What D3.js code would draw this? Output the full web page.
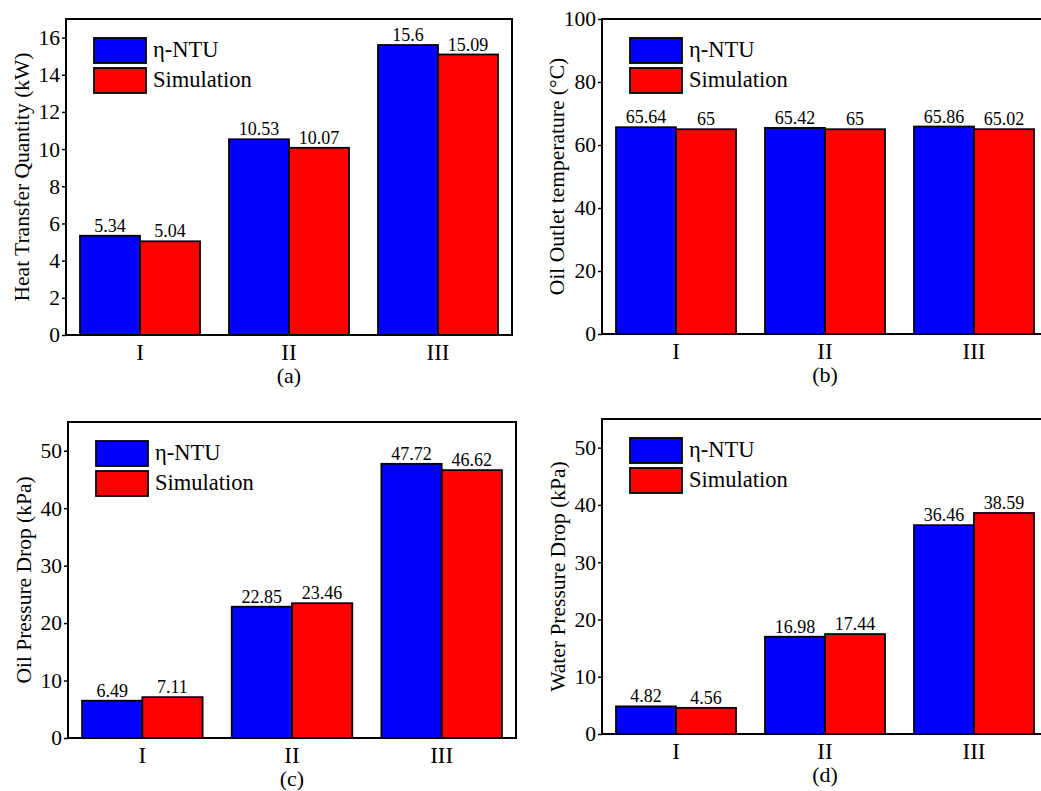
<!DOCTYPE html>
<html>
<head>
<meta charset="utf-8">
<script src="https://cdn.jsdelivr.net/npm/d3@7/dist/d3.min.js"></script>
<style>
  body { margin: 0; background: #fff; }
  svg { font-family: "Liberation Serif", "Times New Roman", serif; }
</style>
</head>
<body>
<svg id="chart" width="1041" height="791"></svg>
<script>
// categories and series shared by all four panels
var categories = ["I", "II", "III"];
var seriesNames = ["η-NTU", "Simulation"];
var seriesColors = ["#0000ff", "#ff0000"];

// (a) heat transfer quantity, kW
var heatNtu = [5.34, 10.53, 15.6];
var heatSim = [5.04, 10.07, 15.09];
var heatTicks = [0, 2, 4, 6, 8, 10, 12, 14, 16];

// (b) oil outlet temperature, °C
var tempNtu = [65.64, 65.42, 65.86];
var tempSim = [65, 65, 65.02];
var tempTicks = [0, 20, 40, 60, 80, 100];

// (c) oil pressure drop, kPa
var oilNtu = [6.49, 22.85, 47.72];
var oilSim = [7.11, 23.46, 46.62];

// (d) water pressure drop, kPa
var waterNtu = [4.82, 16.98, 36.46];
var waterSim = [4.56, 17.44, 38.59];
var pressureTicks = [0, 10, 20, 30, 40, 50];

var svg = d3.select("#chart");

svg.append("defs").append("clipPath").attr("id", "page")
    .append("rect").attr("width", 1041).attr("height", 791);

var root = svg.append("g").attr("clip-path", "url(#page)");

function drawPanel(opt)
{
    var g = root.append("g").attr("transform", "translate(" + opt.left + "," + opt.top + ")");
    var w = opt.width, h = opt.height;

    var x = d3.scaleBand().domain(categories).range([0, w])
        .paddingInner(29 / 149).paddingOuter(14 / 149);
    var xs = d3.scaleBand().domain(seriesNames).range([0, x.bandwidth()]);
    var y = d3.scaleLinear().domain([0, opt.max]).range([h, 0]);

    var rows = categories.map(function (c, i) {
        return seriesNames.map(function (s, j) {
            return {cat: c, series: s, color: seriesColors[j], value: opt.values[j][i]};
        });
    });

    var groups = g.selectAll("g.cat").data(rows).enter().append("g")
        .attr("class", "cat")
        .attr("transform", (d, i) => "translate(" + x(categories[i]) + ",0)");

    groups.selectAll("rect").data(d => d).enter().append("rect")
        .attr("x", d => xs(d.series))
        .attr("y", d => y(d.value))
        .attr("width", xs.bandwidth())
        .attr("height", d => h - y(d.value))
        .style("fill", d => d.color)
        .style("stroke", "#000")
        .style("stroke-width", 1.8);

    groups.selectAll("text").data(d => d).enter().append("text")
        .attr("x", d => xs(d.series) + xs.bandwidth() / 2)
        .attr("y", d => y(d.value) - 4)
        .attr("text-anchor", "middle")
        .attr("font-size", 18)
        .text(d => d.value);

    // frame
    g.append("rect").attr("width", w).attr("height", h)
        .style("fill", "none").style("stroke", "#000").style("stroke-width", 2);

    var yAxis = d3.axisLeft(y).tickValues(opt.ticks).tickSize(4).tickPadding(2);
    var ya = g.append("g").call(yAxis);
    ya.select(".domain").remove();
    ya.selectAll("line").style("stroke-width", 1.5);
    ya.selectAll("text").attr("font-size", 21.5).attr("font-family", "Liberation Serif").attr("fill", "#000");

    var xAxis = d3.axisBottom(x).tickSize(0).tickPadding(9);
    var xa = g.append("g").attr("transform", "translate(0," + h + ")").call(xAxis);
    xa.select(".domain").remove();
    xa.selectAll("text").attr("font-size", 23).attr("font-family", "Liberation Serif").attr("fill", "#000");

    g.append("text")
        .attr("transform", "translate(" + opt.titleX + "," + (h / 2) + ") rotate(-90)")
        .attr("text-anchor", "middle")
        .attr("font-size", 21.5)
        .text(opt.title);

    g.append("text")
        .attr("x", x("II") + x.bandwidth() / 2)
        .attr("y", h + 48)
        .attr("text-anchor", "middle")
        .attr("font-size", 22)
        .text(opt.label);

    // legend
    var legend = g.append("g").attr("transform", "translate(28,19)");
    var item = legend.selectAll("g").data(seriesNames).enter().append("g")
        .attr("transform", (d, i) => "translate(0," + (i * 30) + ")");
    item.append("rect").attr("width", 52).attr("height", 25)
        .style("fill", (d, i) => seriesColors[i])
        .style("stroke", "#000").style("stroke-width", 1.8);
    item.append("text").attr("x", 59).attr("y", 19)
        .attr("font-size", 22.5)
        .text(d => d);
}

drawPanel({left: 66, top: 19, width: 446, height: 316, max: 17, ticks: heatTicks,
    values: [heatNtu, heatSim], title: "Heat Transfer Quantity (kW)", titleX: -37, label: "(a)"});
drawPanel({left: 602, top: 19, width: 446, height: 315, max: 100, ticks: tempTicks,
    values: [tempNtu, tempSim], title: "Oil Outlet temperature (°C)", titleX: -38, label: "(b)"});
drawPanel({left: 68, top: 422, width: 448, height: 316, max: 55, ticks: pressureTicks,
    values: [oilNtu, oilSim], title: "Oil Pressure Drop (kPa)", titleX: -37, label: "(c)"});
drawPanel({left: 602, top: 419, width: 446, height: 315, max: 55, ticks: pressureTicks,
    values: [waterNtu, waterSim], title: "Water Pressure Drop (kPa)", titleX: -37, label: "(d)"});
</script>
</body>
</html>
